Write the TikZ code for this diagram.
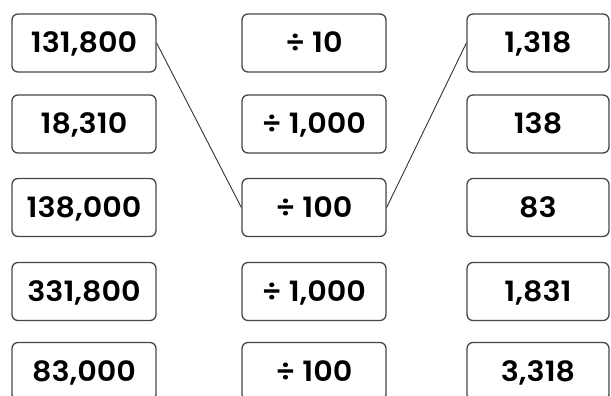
\documentclass[tikz,border=0pt]{standalone}
\usepackage{fontspec}
\setmainfont{Poppins SemiBold}[FakeStretch=1.08]
\begin{document}
\begin{tikzpicture}[x=1pt,y=1pt,
  box/.style={draw=black!72,line width=1.3pt,rounded corners=6pt,minimum height=58pt,inner sep=0pt,text height=20pt,text depth=0pt,font=\fontsize{28}{28}\selectfont},
  lbox/.style={box,minimum width=144pt},
  rbox/.style={box,minimum width=142pt},
  link/.style={draw=black!80,line width=0.9pt}]
\clip (0,0) rectangle (611,396);
\fill[white] (0,0) rectangle (611,396);
% left column
\node[lbox] (l1) at (84,353) {131,800};
\node[lbox] (l2) at (84,272) {18,310};
\node[lbox] (l3) at (84,188.5) {138,000};
\node[lbox] (l4) at (84,104.5) {331,800};
\node[lbox] (l5) at (84,24.5) {83,000};
% middle column
\node[lbox] (m1) at (314,353) {÷ 10};
\node[lbox] (m2) at (314,272) {÷ 1,000};
\node[lbox] (m3) at (314,188.5) {÷ 100};
\node[lbox] (m4) at (314,104.5) {÷ 1,000};
\node[lbox] (m5) at (314,24.5) {÷ 100};
% right column
\node[rbox] (r1) at (538,353) {1,318};
\node[rbox] (r2) at (538,272) {138};
\node[rbox] (r3) at (538,188.5) {83};
\node[rbox] (r4) at (538,104.5) {1,831};
\node[rbox] (r5) at (538,24.5) {3,318};
% links
\draw[link] (l1.east) -- (m3.west);
\draw[link] (m3.east) -- (r1.west);
\end{tikzpicture}
\end{document}
